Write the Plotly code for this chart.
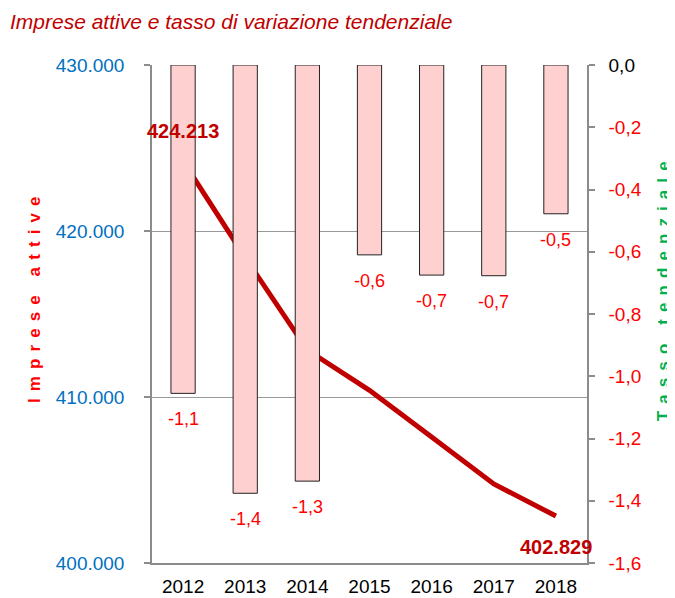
import plotly.graph_objects as go

years = ["2012", "2013", "2014", "2015", "2016", "2017", "2018"]
imprese = [424213, 418400, 412830, 410400, 407590, 404760, 402829]
tasso = [-1.055, -1.376, -1.337, -0.610, -0.675, -0.677, -0.478]

left_ticks = [400000, 410000, 420000, 430000]
right_ticks = [0.0, -0.2, -0.4, -0.6, -0.8, -1.0, -1.2, -1.4, -1.6]

FONT = "Liberation Sans, Arial, sans-serif"
RED = "#FF0000"
DARKRED = "#C00000"
BLUE = "#0070C0"
GREEN = "#00B050"
GRAY = "#8C8C8C"

# page body has an 8px margin: the figure is drawn at (8, 8)
W, H = 667, 590


def it_num(v, dec):
    s = f"{v:,.{dec}f}"
    return s.replace(",", "X").replace(".", ",").replace("X", ".")


fig = go.Figure()

fig.add_trace(go.Bar(
    x=years, y=tasso, yaxis="y2",
    width=0.39,
    marker=dict(color="#FFD0D0", line=dict(color="#222222", width=1)),
    hoverinfo="skip",
))

fig.add_trace(go.Scatter(
    x=years, y=imprese, yaxis="y", mode="lines",
    line=dict(color=DARKRED, width=5),
    hoverinfo="skip",
))

annotations = []
for i, v in enumerate(tasso):
    annotations.append(dict(
        x=i, y=v, xref="x", yref="y2", text=it_num(v, 1),
        showarrow=False, yanchor="middle", xanchor="center", yshift=-26,
        font=dict(family=FONT, size=18, color=RED),
    ))

annotations.append(dict(
    x=0, y=imprese[0], xref="x", yref="y", text=it_num(imprese[0], 0),
    showarrow=False, yanchor="middle", xanchor="center", yshift=30,
    font=dict(family=FONT, size=20, color=DARKRED, weight="bold"),
))
annotations.append(dict(
    x=len(years) - 1, y=imprese[-1], xref="x", yref="y", text=it_num(imprese[-1], 0),
    showarrow=False, yanchor="middle", xanchor="center", yshift=-31,
    font=dict(family=FONT, size=20, color=DARKRED, weight="bold"),
))

SP = "\u2004\u200a"
left_title = SP.join(list("Imprese\u00a0attive"))
right_title = SP.join(list("Tasso\u00a0tendenziale"))
annotations.append(dict(
    x=-0.2713, y=0.53, xref="paper", yref="paper", text=left_title,
    showarrow=False, textangle=-90, xanchor="center", yanchor="middle",
    font=dict(family=FONT, size=17, color=RED, weight="bold"),
))
annotations.append(dict(
    x=1.175, y=0.546, xref="paper", yref="paper", text=right_title,
    showarrow=False, textangle=-90, xanchor="center", yanchor="middle",
    font=dict(family=FONT, size=17, color=GREEN, weight="bold"),
))

right_text = []
for t in right_ticks:
    if abs(t) < 1e-9:
        right_text.append('<span style="color:black">0,0</span>')
    else:
        right_text.append(it_num(t, 1))

n = len(years)
fig.update_layout(
    width=W, height=H,
    margin=dict(l=144, r=88, t=57, b=35, autoexpand=False),
    paper_bgcolor="white", plot_bgcolor="white",
    showlegend=False,
    title=dict(
        text="<i>Imprese attive e tasso di variazione tendenziale</i>",
        x=2 / W, xanchor="left", xref="container",
        y=1 - 14 / H, yanchor="middle", yref="container",
        font=dict(family=FONT, size=21, color=DARKRED),
    ),
    xaxis=dict(
        type="category", categoryarray=years, range=[-0.5, n - 0.5],
        showline=True, linecolor=GRAY, linewidth=1.5,
        ticks="", showgrid=False, automargin=False,
        tickfont=dict(family=FONT, size=19, color="black"),
        ticklabelstandoff=5,
    ),
    xaxis2=dict(
        overlaying="x", side="top", anchor="y", range=[-0.5, n - 0.5],
        tickvals=[i - 0.5 for i in range(n + 1)], automargin=False,
        showticklabels=False, ticks="outside", ticklen=6, tickcolor=GRAY, tickwidth=1.5,
        showline=True, linecolor=GRAY, linewidth=1.5, showgrid=False, zeroline=False,
    ),
    yaxis=dict(
        range=[400000, 430000], tickvals=left_ticks,
        ticktext=[it_num(v, 0) for v in left_ticks],
        tickfont=dict(family=FONT, size=19, color=BLUE),
        showline=True, linecolor=GRAY, linewidth=1.5, automargin=False,
        ticks="outside", ticklen=6, tickcolor=GRAY, tickwidth=1.5,
        showgrid=True, gridcolor="#999999", gridwidth=1,
        zeroline=False, ticklabelstandoff=16,
    ),
    yaxis2=dict(
        range=[-1.6, 0], overlaying="y", side="right",
        tickvals=right_ticks, ticktext=right_text, automargin=False,
        tickfont=dict(family=FONT, size=19, color=RED),
        showline=True, linecolor=GRAY, linewidth=1.5,
        ticks="outside", ticklen=6, tickcolor=GRAY, tickwidth=1.5,
        showgrid=False, zeroline=False, ticklabelstandoff=10,
    ),
    annotations=annotations,
)

fig.write_html("out.html")
